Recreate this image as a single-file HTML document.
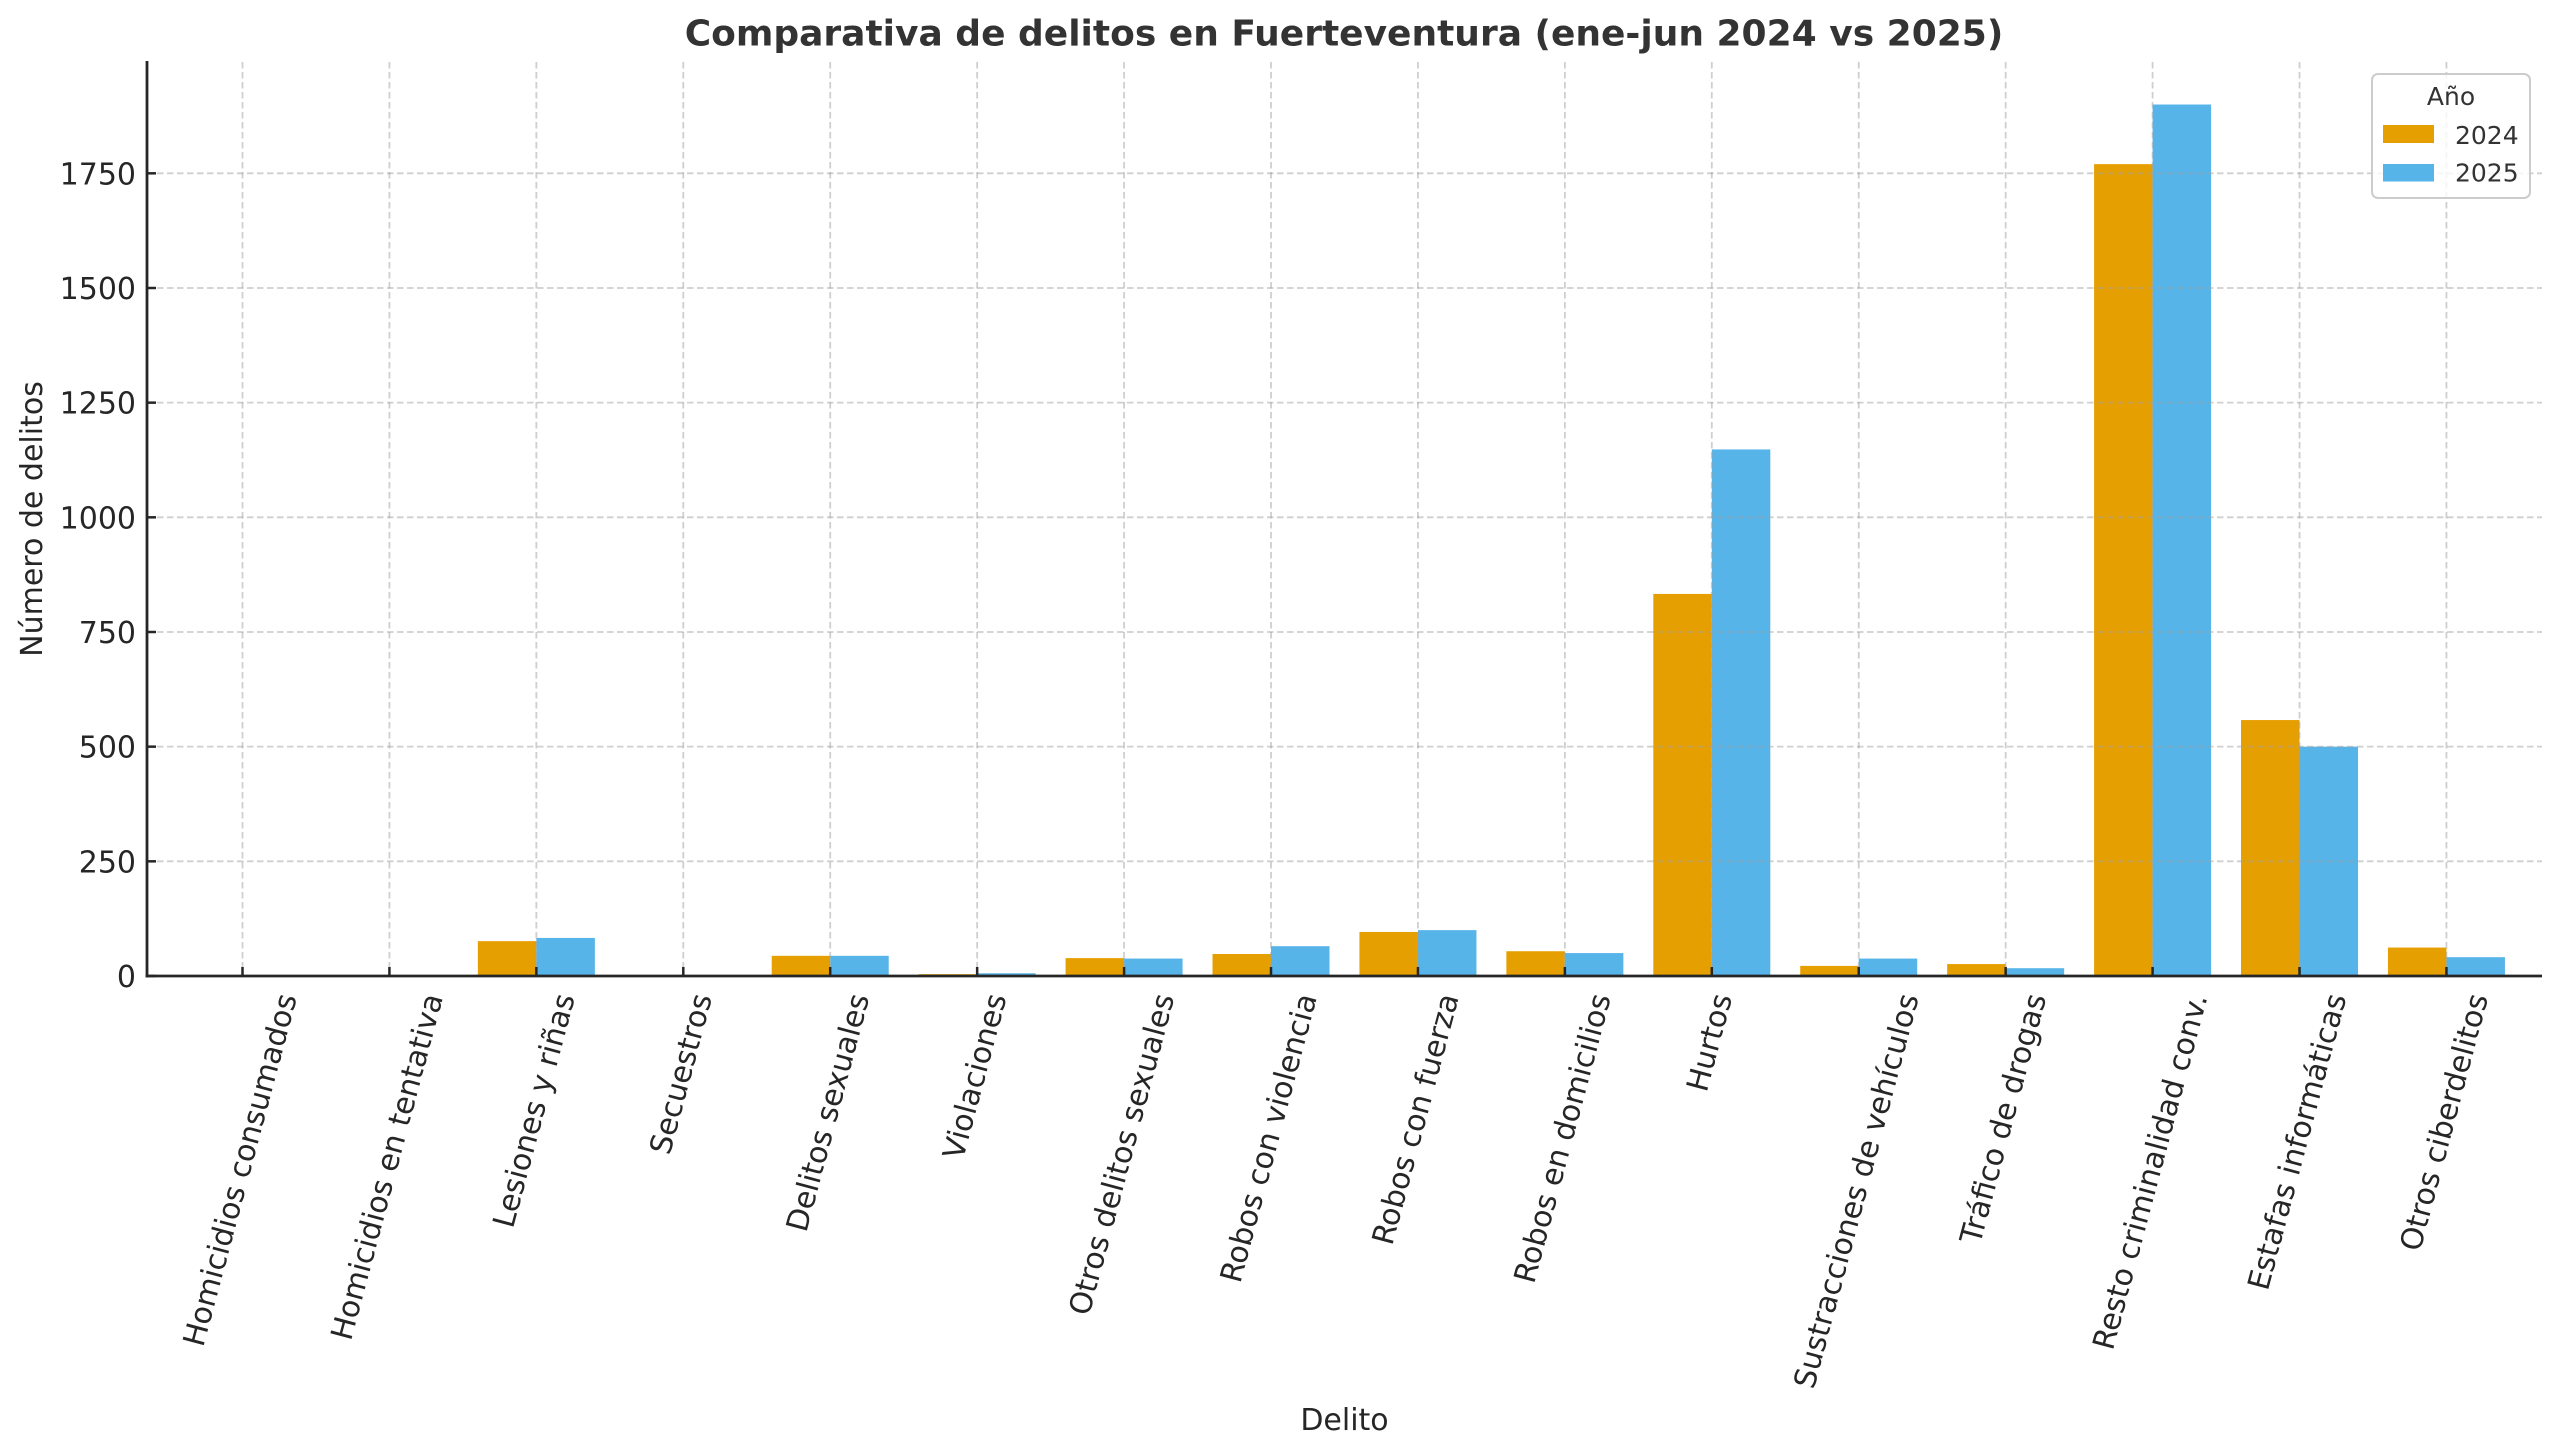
<!DOCTYPE html>
<html><head><meta charset="utf-8">
<style>
html,body{margin:0;padding:0;background:#fff;}
svg{display:block;}
text{font-family:"DejaVu Sans","Liberation Sans",sans-serif;}
</style></head>
<body>
<svg id="c" width="2560" height="1455" viewBox="0 0 2560 1455" xmlns="http://www.w3.org/2000/svg">
<rect x="0" y="0" width="2560" height="1455" fill="#ffffff"/>
<!-- title -->
<text x="1344" y="45.5" text-anchor="middle" font-size="36" font-weight="bold" fill="#333333">Comparativa de delitos en Fuerteventura (ene-jun 2024 vs 2025)</text>

<!-- bars -->
<g>
<g fill="#E69F00">
<rect x="477.86" y="941.14" width="58.5" height="34.86"/>
<rect x="771.72" y="955.82" width="58.5" height="20.18"/>
<rect x="918.65" y="974.17" width="58.5" height="1.83"/>
<rect x="1065.58" y="958.11" width="58.5" height="17.89"/>
<rect x="1212.51" y="953.98" width="58.5" height="22.02"/>
<rect x="1359.44" y="931.97" width="58.5" height="44.03"/>
<rect x="1506.37" y="951.23" width="58.5" height="24.77"/>
<rect x="1653.3" y="593.92" width="58.5" height="382.08"/>
<rect x="1800.23" y="965.91" width="58.5" height="10.09"/>
<rect x="1947.16" y="964.07" width="58.5" height="11.93"/>
<rect x="2094.09" y="164.14" width="58.5" height="811.86"/>
<rect x="2241.02" y="720.06" width="58.5" height="255.94"/>
<rect x="2387.95" y="947.56" width="58.5" height="28.44"/>
</g>
<g fill="#56B4E9">
<rect x="536.36" y="937.93" width="58.5" height="38.07"/>
<rect x="830.22" y="955.82" width="58.5" height="20.18"/>
<rect x="977.15" y="973.25" width="58.5" height="2.75"/>
<rect x="1124.08" y="958.57" width="58.5" height="17.43"/>
<rect x="1271.01" y="946.19" width="58.5" height="29.81"/>
<rect x="1417.94" y="930.13" width="58.5" height="45.87"/>
<rect x="1564.87" y="953.07" width="58.5" height="22.93"/>
<rect x="1711.8" y="449.44" width="58.5" height="526.56"/>
<rect x="1858.73" y="958.57" width="58.5" height="17.43"/>
<rect x="2005.66" y="968.2" width="58.5" height="7.8"/>
<rect x="2152.59" y="104.51" width="58.5" height="871.49"/>
<rect x="2299.52" y="746.66" width="58.5" height="229.34"/>
<rect x="2446.45" y="957.19" width="58.5" height="18.81"/>
</g>
</g>

<!-- grid -->
<g stroke="rgba(160,160,160,0.5)" stroke-width="1.8" stroke-dasharray="6.5,3.5" fill="none">
<line x1="147" x2="2542" y1="861.33" y2="861.33"/>
<line x1="147" x2="2542" y1="746.66" y2="746.66"/>
<line x1="147" x2="2542" y1="632" y2="632"/>
<line x1="147" x2="2542" y1="517.33" y2="517.33"/>
<line x1="147" x2="2542" y1="402.66" y2="402.66"/>
<line x1="147" x2="2542" y1="288" y2="288"/>
<line x1="147" x2="2542" y1="173.33" y2="173.33"/>
<line x1="242.5" x2="242.5" y1="62" y2="976"/>
<line x1="389.43" x2="389.43" y1="62" y2="976"/>
<line x1="536.36" x2="536.36" y1="62" y2="976"/>
<line x1="683.29" x2="683.29" y1="62" y2="976"/>
<line x1="830.22" x2="830.22" y1="62" y2="976"/>
<line x1="977.15" x2="977.15" y1="62" y2="976"/>
<line x1="1124.08" x2="1124.08" y1="62" y2="976"/>
<line x1="1271.01" x2="1271.01" y1="62" y2="976"/>
<line x1="1417.94" x2="1417.94" y1="62" y2="976"/>
<line x1="1564.87" x2="1564.87" y1="62" y2="976"/>
<line x1="1711.8" x2="1711.8" y1="62" y2="976"/>
<line x1="1858.73" x2="1858.73" y1="62" y2="976"/>
<line x1="2005.66" x2="2005.66" y1="62" y2="976"/>
<line x1="2152.59" x2="2152.59" y1="62" y2="976"/>
<line x1="2299.52" x2="2299.52" y1="62" y2="976"/>
<line x1="2446.45" x2="2446.45" y1="62" y2="976"/>
</g>

<!-- spines -->
<g stroke="#262626" stroke-width="2.8" fill="none">
<line x1="147" x2="147" y1="61" y2="977.4"/>
<line x1="145.6" x2="2542" y1="976" y2="976"/>
</g>
<!-- ticks (inward) -->
<g stroke="#262626" stroke-width="2.5">
<line x1="147" x2="156" y1="976" y2="976"/>
<line x1="147" x2="156" y1="861.33" y2="861.33"/>
<line x1="147" x2="156" y1="746.66" y2="746.66"/>
<line x1="147" x2="156" y1="632" y2="632"/>
<line x1="147" x2="156" y1="517.33" y2="517.33"/>
<line x1="147" x2="156" y1="402.66" y2="402.66"/>
<line x1="147" x2="156" y1="288" y2="288"/>
<line x1="147" x2="156" y1="173.33" y2="173.33"/>
<line x1="242.5" x2="242.5" y1="976" y2="967"/>
<line x1="389.43" x2="389.43" y1="976" y2="967"/>
<line x1="536.36" x2="536.36" y1="976" y2="967"/>
<line x1="683.29" x2="683.29" y1="976" y2="967"/>
<line x1="830.22" x2="830.22" y1="976" y2="967"/>
<line x1="977.15" x2="977.15" y1="976" y2="967"/>
<line x1="1124.08" x2="1124.08" y1="976" y2="967"/>
<line x1="1271.01" x2="1271.01" y1="976" y2="967"/>
<line x1="1417.94" x2="1417.94" y1="976" y2="967"/>
<line x1="1564.87" x2="1564.87" y1="976" y2="967"/>
<line x1="1711.8" x2="1711.8" y1="976" y2="967"/>
<line x1="1858.73" x2="1858.73" y1="976" y2="967"/>
<line x1="2005.66" x2="2005.66" y1="976" y2="967"/>
<line x1="2152.59" x2="2152.59" y1="976" y2="967"/>
<line x1="2299.52" x2="2299.52" y1="976" y2="967"/>
<line x1="2446.45" x2="2446.45" y1="976" y2="967"/>
</g>

<!-- y tick labels -->
<g font-size="30" fill="#262626" text-anchor="end">
<text x="136" y="987">0</text>
<text x="136" y="872.3">250</text>
<text x="136" y="757.7">500</text>
<text x="136" y="643">750</text>
<text x="136" y="528.3">1000</text>
<text x="136" y="413.7">1250</text>
<text x="136" y="299">1500</text>
<text x="136" y="184.3">1750</text>
</g>

<!-- axis labels -->
<text x="1344.5" y="1430" text-anchor="middle" font-size="30" fill="#262626">Delito</text>
<text transform="translate(42,519) rotate(-90)" text-anchor="middle" font-size="30" fill="#262626">Número de delitos</text>

<!-- x tick labels -->
<g id="xl" font-size="30" fill="#262626" text-anchor="middle">
<text y="7.8" transform="translate(242.5,1170.5) rotate(-75)">Homicidios consumados</text>
<text y="7.8" transform="translate(389.43,1190) rotate(-75)">Homicidios en tentativa</text>
<text y="7.8" transform="translate(536.36,1122) rotate(-75)">Lesiones y riñas</text>
<text y="7.8" transform="translate(683.29,1075) rotate(-75)">Secuestros</text>
<text y="7.8" transform="translate(830.22,1122) rotate(-75)">Delitos sexuales</text>
<text y="7.8" transform="translate(977.15,1080) rotate(-75)">Violaciones</text>
<text y="7.8" transform="translate(1124.08,1165) rotate(-75)">Otros delitos sexuales</text>
<text y="7.8" transform="translate(1271.01,1148) rotate(-75)">Robos con violencia</text>
<text y="7.8" transform="translate(1417.94,1122) rotate(-75)">Robos con fuerza</text>
<text y="7.8" transform="translate(1564.87,1148) rotate(-75)">Robos en domicilios</text>
<text y="7.8" transform="translate(1711.8,1042) rotate(-75)">Hurtos</text>
<text y="7.8" transform="translate(1858.73,1191.5) rotate(-75)">Sustracciones de vehículos</text>
<text y="7.8" transform="translate(2005.66,1128) rotate(-75)">Tráfico de drogas</text>
<text y="7.8" transform="translate(2152.59,1182) rotate(-75)">Resto criminalidad conv.</text>
<text y="7.8" transform="translate(2299.52,1155) rotate(-75)">Estafas informáticas</text>
<text y="7.8" transform="translate(2446.45,1140) rotate(-75)">Otros ciberdelitos</text>
</g>

<!-- legend -->
<rect x="2372" y="74" width="158" height="124" rx="6" ry="6" fill="#ffffff" fill-opacity="0.8" stroke="#cccccc" stroke-width="2"/>
<text x="2451" y="105" text-anchor="middle" font-size="25" fill="#333333">Año</text>
<rect x="2383" y="125" width="51" height="18" fill="#E69F00"/>
<rect x="2383" y="164" width="51" height="17.5" fill="#56B4E9"/>
<text x="2455" y="144" font-size="25" fill="#333333">2024</text>
<text x="2455" y="181.5" font-size="25" fill="#333333">2025</text>
</svg>
<script>
(function(){
  var xs=[242.5,389.43,536.36,683.29,830.22,977.15,1124.08,1271.01,1417.94,1564.87,1711.8,1858.73,2005.66,2152.59,2299.52,2446.45];
  var ts=document.querySelectorAll('#xl text');
  for(var i=0;i<ts.length;i++){
    try{
      var L=ts[i].getComputedTextLength();
      if(L>0){ts[i].setAttribute('transform','translate('+xs[i]+','+(995+0.483*L).toFixed(2)+') rotate(-75)');}
    }catch(e){}
  }
})();
</script>
</body></html>
